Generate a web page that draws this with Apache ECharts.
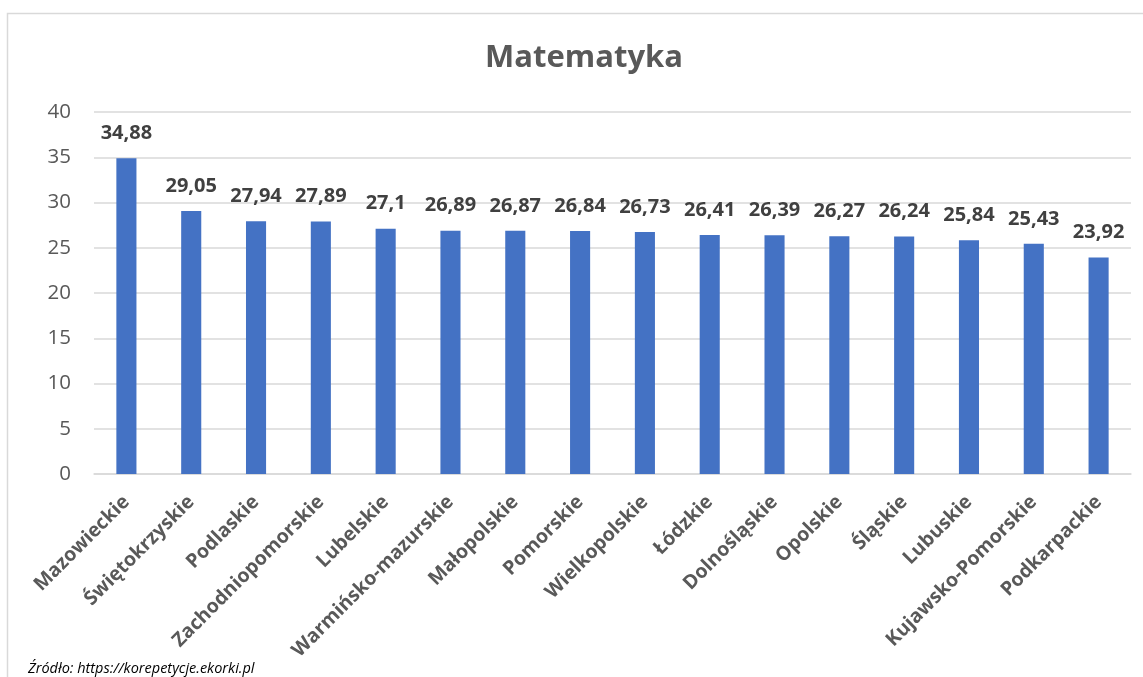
<!DOCTYPE html>
<html>
<head>
<meta charset="utf-8">
<script src="https://cdn.jsdelivr.net/npm/echarts@6/dist/echarts.min.js"></script>
<style>
  html, body { margin: 0; padding: 0; background: #fff; }
  #chart { width: 1143px; height: 677px; }
</style>
</head>
<body>
<div id="chart"></div>
<script>
// województwa i średnie wyniki
const regions = [
  'Mazowieckie', 'Świętokrzyskie', 'Podlaskie', 'Zachodniopomorskie', 'Lubelskie',
  'Warmińsko-mazurskie', 'Małopolskie', 'Pomorskie', 'Wielkopolskie', 'Łódzkie',
  'Dolnośląskie', 'Opolskie', 'Śląskie', 'Lubuskie', 'Kujawsko-Pomorskie', 'Podkarpackie'
]
const scores = [34.88, 29.05, 27.94, 27.89, 27.1, 26.89, 26.87, 26.84, 26.73, 26.41, 26.39, 26.27, 26.24, 25.84, 25.43, 23.92]

const fontFamily = '"Open Sans", "Noto Sans", sans-serif'

const chart = echarts.init(document.getElementById('chart'))

chart.setOption({
  animation: false,
  title: {
    text: 'Matematyka',
    left: 579,
    textAlign: 'center',
    top: 38,
    textStyle: { fontSize: 31, fontWeight: 'bold', color: '#595959', fontFamily }
  },
  graphic: [
    {
      type: 'rect',
      shape: { x: 7.5, y: 13.5, width: 1200, height: 700 },
      style: { fill: 'none', stroke: '#d9d9d9', lineWidth: 1.5 },
      silent: true
    },
    {
      type: 'text',
      left: 28,
      top: 661,
      style: {
        text: 'Źródło: https://korepetycje.ekorki.pl',
        font: 'italic 14.5px ' + fontFamily,
        fill: '#000'
      }
    }
  ],
  grid: { left: 94, right: 12, top: 112, bottom: 203 },
  xAxis: {
    type: 'category',
    data: regions,
    axisLine: { lineStyle: { color: '#d9d9d9', width: 1.5 } },
    axisTick: { show: false },
    axisLabel: {
      rotate: 45,
      interval: 0,
      margin: 25,
      fontSize: 19.5,
      fontWeight: 'bold',
      color: '#595959',
      fontFamily
    }
  },
  yAxis: {
    type: 'value',
    min: 0,
    max: 40,
    interval: 5,
    axisLine: { show: false },
    axisTick: { show: false },
    splitLine: { lineStyle: { color: '#d9d9d9', width: 1.5 } },
    axisLabel: { fontSize: 20.5, color: '#595959', margin: 23, fontFamily }
  },
  series: [{
    type: 'bar',
    data: scores,
    barWidth: '31%',
    itemStyle: { color: '#4472C4' },
    label: {
      show: true,
      position: 'top',
      distance: 15,
      fontSize: 20,
      fontWeight: 'bold',
      color: '#404040',
      fontFamily,
      formatter: p => String(p.value).replace('.', ',')
    }
  }]
})
</script>
</body>
</html>
